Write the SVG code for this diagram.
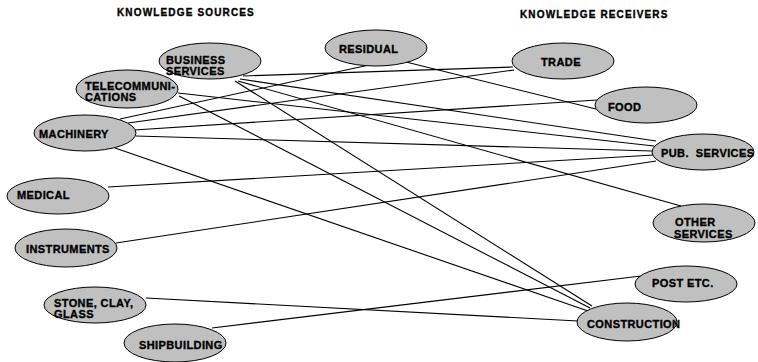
<svg xmlns="http://www.w3.org/2000/svg" width="758" height="362" viewBox="0 0 758 362">
<style>
.n ellipse{fill:#c0c0c0;stroke:#000;stroke-width:1}
.n text{font-family:"Liberation Sans",Arial,sans-serif;font-weight:bold;font-size:11px;letter-spacing:0.4px;fill:#000;stroke:#000;stroke-width:0.35}
.t{font-family:"Liberation Sans",Arial,sans-serif;font-weight:bold;font-size:10px;letter-spacing:1.15px;fill:#000;stroke:#000;stroke-width:0.35}
#edges line{stroke:#000;stroke-width:1.1}
</style>
<rect width="758" height="362" fill="#fff"/>
<text class="t" x="117" y="16">KNOWLEDGE SOURCES</text>
<text class="t" x="520" y="18">KNOWLEDGE RECEIVERS</text>
<g id="edges">
<line x1="243" y1="76" x2="513" y2="67"/>
<line x1="240" y1="79" x2="656" y2="141"/>
<line x1="238" y1="81" x2="681" y2="206"/>
<line x1="235" y1="81" x2="592" y2="306"/>
<line x1="178" y1="93" x2="654" y2="146"/>
<line x1="179" y1="96" x2="590" y2="308"/>
<line x1="120" y1="119" x2="369" y2="65"/>
<line x1="128" y1="123" x2="514" y2="70"/>
<line x1="134" y1="130" x2="597" y2="100"/>
<line x1="136" y1="136" x2="652" y2="151"/>
<line x1="115" y1="148" x2="588" y2="311"/>
<line x1="108" y1="187" x2="654" y2="155"/>
<line x1="116" y1="243" x2="656" y2="161"/>
<line x1="146" y1="298" x2="578" y2="321"/>
<line x1="212" y1="328" x2="641" y2="276"/>
<line x1="406" y1="62" x2="596" y2="109"/>
</g>
<g id="business" class="n"><ellipse cx="210" cy="61" rx="51" ry="18"/><text x="166" y="64">BUSINESS</text><text x="166" y="75">SERVICES</text></g>
<g id="telecom" class="n"><ellipse cx="127" cy="89" rx="51" ry="19"/><text x="85" y="90">TELECOMMUNI-</text><text x="85" y="101">CATIONS</text></g>
<g id="machinery" class="n"><ellipse cx="85" cy="133" rx="51" ry="18"/><text x="39" y="138">MACHINERY</text></g>
<g id="medical" class="n"><ellipse cx="58" cy="196" rx="51" ry="18"/><text x="17" y="199">MEDICAL</text></g>
<g id="instruments" class="n"><ellipse cx="66" cy="248" rx="51" ry="19"/><text x="26" y="253">INSTRUMENTS</text></g>
<g id="stone" class="n"><ellipse cx="95" cy="305" rx="51" ry="18"/><text x="54" y="307">STONE, CLAY,</text><text x="54" y="318">GLASS</text></g>
<g id="shipbuilding" class="n"><ellipse cx="175" cy="343" rx="51" ry="19"/><text x="139" y="349">SHIPBUILDING</text></g>
<g id="residual" class="n"><ellipse cx="376" cy="48" rx="51" ry="18"/><text x="339" y="53">RESIDUAL</text></g>
<g id="trade" class="n"><ellipse cx="563" cy="61" rx="51" ry="18"/><text x="541" y="66">TRADE</text></g>
<g id="food" class="n"><ellipse cx="646" cy="105" rx="51" ry="18"/><text x="608" y="111">FOOD</text></g>
<g id="pub" class="n"><ellipse cx="703" cy="152" rx="51" ry="18"/><text x="661" y="157" xml:space="preserve">PUB.  SERVICES</text></g>
<g id="other" class="n"><ellipse cx="704" cy="223" rx="51" ry="19"/><text x="675" y="226">OTHER</text><text x="674" y="238">SERVICES</text></g>
<g id="post" class="n"><ellipse cx="686" cy="284" rx="51" ry="18"/><text x="652" y="287">POST ETC.</text></g>
<g id="construction" class="n"><ellipse cx="627" cy="322" rx="50" ry="19"/><text x="587" y="328">CONSTRUCTION</text></g>
</svg>
